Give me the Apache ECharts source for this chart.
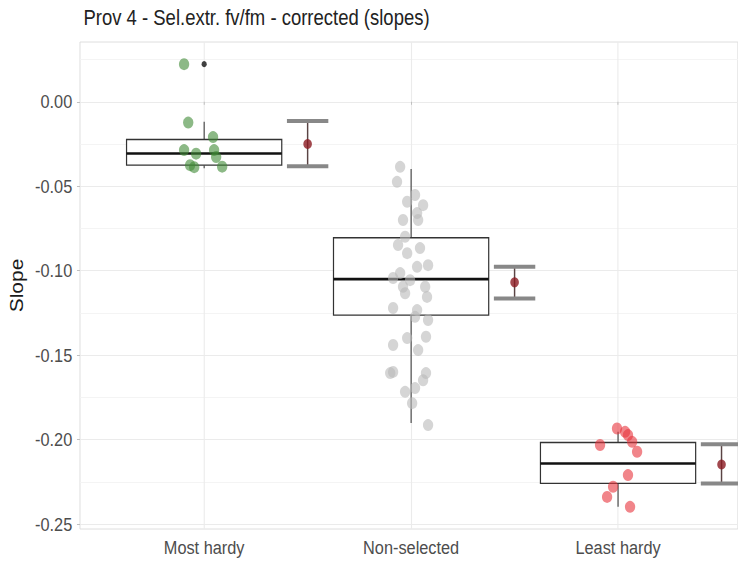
<!DOCTYPE html>
<html><head><meta charset="utf-8">
<script src="https://cdn.jsdelivr.net/npm/echarts@6/dist/echarts.min.js"></script>
<style>
html,body{margin:0;padding:0;background:#fff;overflow:hidden}
#wrap{width:738px;height:562px;overflow:hidden;position:relative}
#c{width:858px;height:562px;transform:scaleX(0.86);transform-origin:0 0;position:absolute;left:0;top:0}
</style>
</head><body><div id="wrap"><div id="c"></div></div>
<script>
const titleText = 'Prov 4 - Sel.extr. fv/fm - corrected (slopes)';
const yName = 'Slope';
const categories = ['Most hardy', 'Non-selected', 'Least hardy'];
const yTicks = [-0.25, -0.20, -0.15, -0.10, -0.05, 0.00];
const yMinorTicks = [-0.225, -0.175, -0.125, -0.075, -0.025, 0.025];

// boxplot statistics per category
const whiskerLow = [-0.0393, -0.1902, -0.2398];
const q1 = [-0.0375, -0.1263, -0.2259];
const median = [-0.0306, -0.1050, -0.2141];
const q3 = [-0.0223, -0.0805, -0.2017];
const whiskerHigh = [-0.0118, -0.0398, -0.1954];
const outlierGroup = [1];
const outlierY = [0.0223];

// mean and error bar per category
const meanVal = [-0.0250, -0.1069, -0.2147];
const errLow = [-0.0381, -0.1164, -0.2259];
const errHigh = [-0.0114, -0.0977, -0.2028];

// individual observations (y) and their horizontal jitter (category units)
const mostHardyY = [0.0223, -0.0123, -0.0209, -0.0286, -0.0286, -0.0307, -0.0375, -0.0387, -0.0327, -0.0384];
const mostHardyJitter = [-0.097, -0.077, 0.043, 0.048, -0.097, -0.039, -0.068, -0.048, 0.058, 0.087];
const nonSelY = [-0.0385, -0.0474, -0.0552, -0.0592, -0.0612, -0.0659, -0.0700, -0.0700, -0.0799, -0.0848,
  -0.0866, -0.0896, -0.0967, -0.0977, -0.1014, -0.1043, -0.1056, -0.1095, -0.1095, -0.1133,
  -0.1155, -0.1221, -0.1233, -0.1273, -0.1292, -0.1399, -0.1391, -0.1440, -0.1470, -0.1599,
  -0.1606, -0.1606, -0.1648, -0.1717, -0.1695, -0.1784, -0.1914];
const nonSelJitter = [-0.053, -0.068, 0.019, -0.019, 0.058, 0.029, -0.039, 0.034, -0.029, -0.063,
  0.043, -0.019, 0.082, 0.029, -0.053, -0.087, -0.005, -0.039, 0.068, -0.029,
  0.077, -0.087, 0.029, 0.019, 0.082, -0.019, 0.072, -0.087, 0.034, -0.087,
  -0.101, 0.072, 0.058, -0.029, 0.019, 0.005, 0.082];
const leastHardyY = [-0.1934, -0.1954, -0.1973, -0.2032, -0.2013, -0.2072, -0.2210, -0.2279, -0.2339, -0.2398];
const leastHardyJitter = [-0.005, 0.034, 0.048, -0.087, 0.068, 0.092, 0.048, -0.024, -0.053, 0.058];

const BOX_HALF = 0.375;
const ERR_OFFSET = 0.5;
const CAP_HALF = 0.1;
const FONT = "'Liberation Sans', Arial, Helvetica, sans-serif";

const boxData = categories.map((c, i) => [i + 1, whiskerLow[i], q1[i], median[i], q3[i], whiskerHigh[i]]);
const errData = categories.map((c, i) => [i + 1 + ERR_OFFSET, errLow[i], errHigh[i], meanVal[i]]);
const meanData = categories.map((c, i) => [i + 1 + ERR_OFFSET, meanVal[i]]);
const pts = (ys, js, g) => ys.map((y, k) => [g + js[k], y]);

const chart = echarts.init(document.getElementById('c'), null, {renderer: 'svg'});
chart.setOption({
  animation: false,
  backgroundColor: '#fff',
  title: {
    text: titleText, left: 92, top: 1,
    textStyle: {fontFamily: FONT, fontSize: 21.5, fontWeight: 'normal', color: '#222'}
  },
  grid: {left: 93, right: 0, top: 42, bottom: 33, containLabel: false, outerBoundsMode: 'none',
    show: true, borderColor: '#dcdcdc', borderWidth: 1, backgroundColor: 'transparent'},
  xAxis: {
    type: 'value', min: 0.4, max: 3.579,
    axisLine: {show: false},
    axisTick: {show: true, length: 3, lineStyle: {color: '#bbb'}, customValues: [1, 2, 3]},
    axisLabel: {customValues: [1, 2, 3], formatter: v => categories[Math.round(v) - 1],
      fontFamily: FONT, fontSize: 19, color: '#4d4d4d', margin: 9},
    splitLine: {show: true, lineStyle: {color: '#ebebeb', width: 1.3}}
  },
  yAxis: [{
    type: 'value', min: -0.2529, max: 0.0354, position: 'left',
    name: yName, nameLocation: 'middle', nameRotate: 90, nameGap: 49,
    nameTextStyle: {fontFamily: FONT, fontSize: 21, color: '#1a1a1a'},
    axisLine: {show: false},
    axisTick: {show: true, length: 3.5, lineStyle: {color: '#bbb'}, customValues: yTicks},
    axisLabel: {customValues: yTicks, formatter: v => v.toFixed(2),
      fontFamily: FONT, fontSize: 19, color: '#4d4d4d', margin: 9},
    splitLine: {show: true, lineStyle: {color: '#ebebeb', width: 1.2}}
  }, {
    type: 'value', min: -0.2529, max: 0.0354, position: 'left',
    axisLine: {show: false},
    axisTick: {show: false, customValues: yMinorTicks},
    axisLabel: {show: false, customValues: yMinorTicks},
    splitLine: {show: true, lineStyle: {color: '#f3f3f3', width: 1}}
  }],
  series: [
    {
      type: 'custom', name: 'box', data: boxData, clip: true, z: 2,
      encode: {x: 0, y: [1, 2, 3, 4, 5]},
      renderItem: function (params, api) {
        const x = api.value(0);
        const tl = api.coord([x - BOX_HALF, api.value(4)]);
        const br = api.coord([x + BOX_HALF, api.value(2)]);
        const mL = api.coord([x - BOX_HALF, api.value(3)]);
        const mR = api.coord([x + BOX_HALF, api.value(3)]);
        const wl = api.coord([x, api.value(1)]);
        const wh = api.coord([x, api.value(5)]);
        return {type: 'group', children: [
          {type: 'line', shape: {x1: wh[0], y1: wh[1], x2: wh[0], y2: tl[1]}, style: {stroke: '#333', lineWidth: 1.2}},
          {type: 'line', shape: {x1: wl[0], y1: br[1], x2: wl[0], y2: wl[1]}, style: {stroke: '#333', lineWidth: 1.2}},
          {type: 'rect', shape: {x: tl[0], y: tl[1], width: br[0] - tl[0], height: br[1] - tl[1]},
            style: {fill: '#fff', stroke: '#333', lineWidth: 1.4}},
          {type: 'line', shape: {x1: mL[0], y1: mL[1], x2: mR[0], y2: mR[1]}, style: {stroke: '#111', lineWidth: 2.6}}
        ]};
      }
    },
    {type: 'scatter', name: 'Most hardy', data: pts(mostHardyY, mostHardyJitter, 1), symbol: 'circle', symbolSize: 12,
      itemStyle: {color: '#3f8a36', opacity: 0.6}, z: 3},
    {type: 'scatter', name: 'Non-selected', data: pts(nonSelY, nonSelJitter, 2), symbol: 'circle', symbolSize: 12,
      itemStyle: {color: '#b9b9b9', opacity: 0.6}, z: 3},
    {type: 'scatter', name: 'Least hardy', data: pts(leastHardyY, leastHardyJitter, 3), symbol: 'circle', symbolSize: 12,
      itemStyle: {color: '#e8333c', opacity: 0.6}, z: 3},
    {type: 'scatter', name: 'outlier', data: outlierGroup.map((g, k) => [g, outlierY[k]]), symbol: 'circle', symbolSize: 6,
      itemStyle: {color: '#111'}, z: 4},
    {
      type: 'custom', name: 'err', data: errData, clip: true, z: 4,
      encode: {x: 0, y: [1, 2]},
      renderItem: function (params, api) {
        const x = api.value(0);
        const lo = api.coord([x, api.value(1)]);
        const hi = api.coord([x, api.value(2)]);
        const loL = api.coord([x - CAP_HALF, api.value(1)]);
        const loR = api.coord([x + CAP_HALF, api.value(1)]);
        const hiL = api.coord([x - CAP_HALF, api.value(2)]);
        const hiR = api.coord([x + CAP_HALF, api.value(2)]);
        return {type: 'group', children: [
          {type: 'line', shape: {x1: lo[0], y1: lo[1], x2: hi[0], y2: hi[1]}, style: {stroke: '#5a4444', lineWidth: 1.7}},
          {type: 'line', shape: {x1: loL[0], y1: loL[1], x2: loR[0], y2: loR[1]}, style: {stroke: '#888', lineWidth: 4}},
          {type: 'line', shape: {x1: hiL[0], y1: hiL[1], x2: hiR[0], y2: hiR[1]}, style: {stroke: '#888', lineWidth: 4}}
        ]};
      }
    },
    {type: 'scatter', name: 'mean', data: meanData, symbol: 'circle', symbolSize: 10,
      itemStyle: {color: '#8b1a22'}, z: 5}
  ]
});
</script></body></html>
